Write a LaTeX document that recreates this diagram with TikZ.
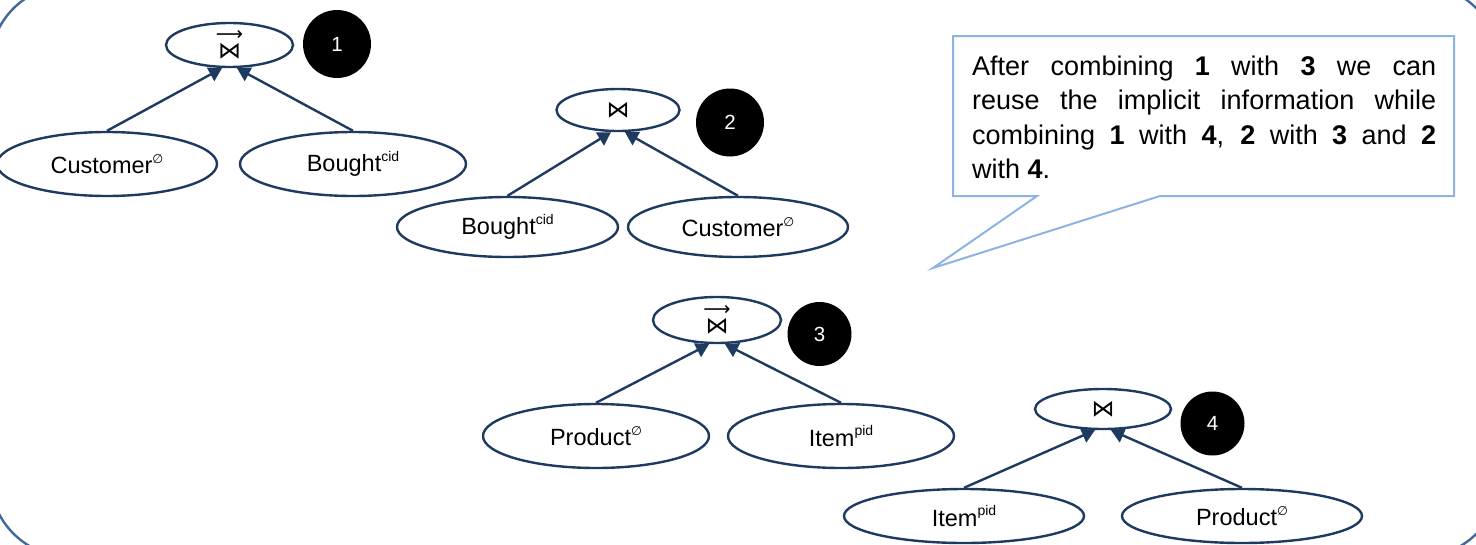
\documentclass[tikz,border=0pt]{standalone}
\usepackage{fontspec}
\setmainfont{Liberation Sans}
\newfontfamily\symfont{DejaVu Sans}
\usetikzlibrary{shapes.geometric,arrows.meta,calc}

\definecolor{treeblue}{RGB}{31,58,96}
\definecolor{frameblue}{RGB}{65,105,155}
\definecolor{noteblue}{RGB}{141,179,226}

% small raised annotation after a relation name
\newcommand\upr[1]{\raisebox{0.45em}{\fontsize{14}{14}\selectfont #1}}
\newcommand\noattr{{\symfont\fontsize{12.5}{12.5}\selectfont ∅}}
\newcommand\joinsym{\hbox{\symfont\fontsize{23}{23}\selectfont ⋈}}
% directed join: the join sign with a thin arrow set above it
\newcommand\ojoinsym{\vbox{\offinterlineskip
  \hbox to 30pt{\hss\symfont\fontsize{19}{19}\selectfont ⟶\hss}
  \kern2.5pt
  \hbox to 30pt{\hss\joinsym\hss}}}

\tikzset{
  rel/.style={ellipse,draw=treeblue,line width=2.4pt,fill=white,inner sep=0pt,
              font=\fontsize{23.5}{28}\selectfont},
  joinop/.style={ellipse,draw=treeblue,line width=2.4pt,fill=white,inner sep=0pt,
              font=\fontsize{20}{24}\selectfont},
  num/.style={circle,fill=black,text=white,inner sep=0pt,
              font=\fontsize{20.5}{20.5}\selectfont},
  flow/.style={draw=treeblue,line width=2.4pt,-{Triangle[length=13pt,width=15pt]}},
}

\begin{document}
\begin{tikzpicture}[x=1pt,y=-1pt]
\useasboundingbox (0,0) rectangle (1476,544);

% surrounding frame, larger than the page
\begin{scope}
  \clip (0,0) rectangle (1476,544);
  \draw[frameblue,line width=2.4pt,rounded corners=80pt] (-10,-15) rectangle (1500,557);
\end{scope}

% tree 1
\node[joinop,minimum width=127pt,minimum height=44pt] (j1) at (229.5,45) {\ojoinsym};
\node[num,minimum size=68pt] (n1) at (337,44) {1};
\node[rel,minimum width=220pt,minimum height=64pt] (r1a) at (107,164) {Customer\upr{\noattr}};
\node[rel,minimum width=226pt,minimum height=64pt] (r1b) at (353,164) {Bought\upr{cid}};
\draw[flow] (r1a.north) -- ($(j1.south)+(-7.5,0)$);
\draw[flow] (r1b.north) -- ($(j1.south)+(7.5,0)$);

% tree 2
\node[joinop,minimum width=123pt,minimum height=42pt] (j2) at (618,110) {\joinsym};
\node[num,minimum size=68pt] (n2) at (730,122.5) {2};
\node[rel,minimum width=221pt,minimum height=60pt] (r2a) at (507.5,227) {Bought\upr{cid}};
\node[rel,minimum width=220pt,minimum height=60pt] (r2b) at (738,227) {Customer\upr{\noattr}};
\draw[flow] (r2a.north) -- ($(j2.south)+(-7,0)$);
\draw[flow] (r2b.north) -- ($(j2.south)+(7,0)$);

% tree 3
\node[joinop,minimum width=128pt,minimum height=46pt] (j3) at (717,320) {\ojoinsym};
\node[num,minimum size=64pt] (n3) at (819.5,334) {3};
\node[rel,minimum width=226pt,minimum height=64pt] (r3a) at (596,436) {Product\upr{\noattr}};
\node[rel,minimum width=226pt,minimum height=64pt] (r3b) at (841,436) {Item\upr{pid}};
\draw[flow] (r3a.north) -- ($(j3.south)+(-8,0)$);
\draw[flow] (r3b.north) -- ($(j3.south)+(8,0)$);

% tree 4
\node[joinop,minimum width=136pt,minimum height=40pt] (j4) at (1103,409) {\joinsym};
\node[num,minimum size=64pt] (n4) at (1212.5,423.5) {4};
\node[rel,minimum width=240pt,minimum height=54pt] (r4a) at (964,516) {Item\upr{pid}};
\node[rel,minimum width=240pt,minimum height=54pt] (r4b) at (1242,516) {Product\upr{\noattr}};
\draw[flow] (r4a.north) -- ($(j4.south)+(-8,0)$);
\draw[flow] (r4b.north) -- ($(j4.south)+(8,0)$);

% callout with its pointer
\draw[noteblue,line width=2pt,fill=white,line join=miter]
  (953,36) -- (1454,36) -- (1454,196) -- (1160,196) -- (933,268) -- (1037,196)
  -- (953,196) -- cycle;
\node[anchor=north west,inner sep=0pt,text width=464pt,align=justify,
      font=\fontsize{27}{34.4}\selectfont] (note) at (972,55.5)
  {After combining \textbf{1} with \textbf{3} we can\linebreak
   reuse the implicit information while\linebreak
   combining \textbf{1} with \textbf{4}, \textbf{2} with \textbf{3} and \textbf{2}\linebreak
   with \textbf{4}.};
\end{tikzpicture}
\end{document}
